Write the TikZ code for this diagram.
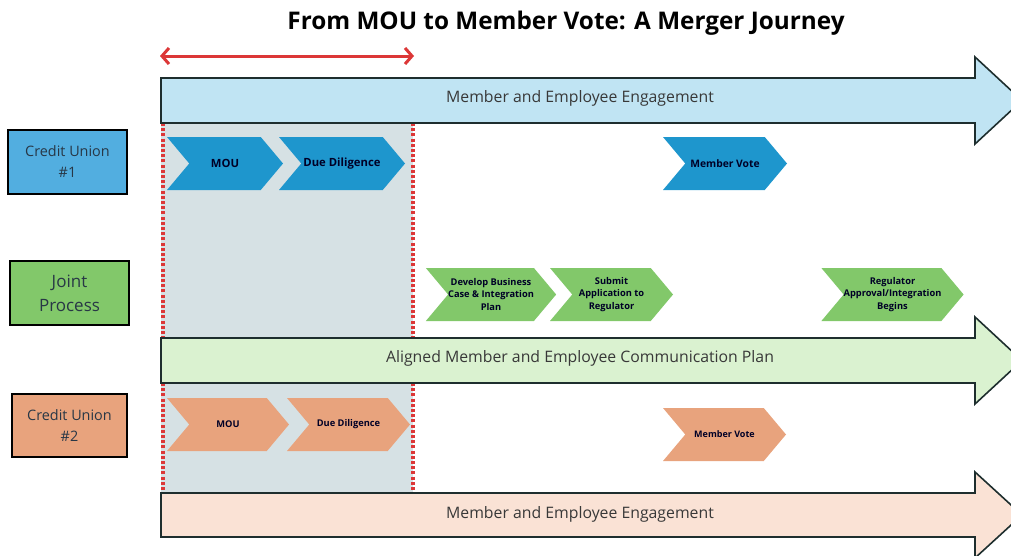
\documentclass[tikz,border=0pt]{standalone}
\usepackage{fontspec}
\setmainfont{Open Sans}
\usetikzlibrary{shapes.symbols,arrows.meta}
\definecolor{cublue}{RGB}{30,150,205}
\definecolor{cubluebox}{RGB}{82,174,224}
\definecolor{cublueband}{RGB}{192,228,243}
\definecolor{jointgreen}{RGB}{130,200,106}
\definecolor{jointband}{RGB}{218,242,208}
\definecolor{cupeach}{RGB}{232,163,125}
\definecolor{cupeachband}{RGB}{250,226,213}
\definecolor{phasegrey}{RGB}{214,225,228}
\definecolor{phasered}{RGB}{220,55,55}
\definecolor{outline}{RGB}{30,46,46}
\definecolor{labeltext}{RGB}{40,55,70}

\begin{document}
\begin{tikzpicture}[x=1pt,y=-1pt]
  \tikzset{stepchev/.style={signal, signal from=west, signal to=east, signal pointer angle=100,
      minimum height=53pt, inner sep=0pt, align=center, text=black!85!blue, font=\bfseries\fontsize{9.3}{12.5}\selectfont},
    lanebox/.style={draw=black, line width=1.6pt, minimum width=119pt, minimum height=64pt, align=center,
      text=labeltext, font=\fontsize{14.4}{21}\selectfont},
    band/.style={draw=outline, line width=1.6pt, line join=miter},
    bandtext/.style={text=black!78, font=\fontsize{15.8}{18}\selectfont},
    phaseline/.style={phasered, line width=3.2pt, dash pattern=on 3pt off 2.2pt}}
  \useasboundingbox (0,0) rectangle (1011,555);
  \node[font=\bfseries\fontsize{24.3}{29}\selectfont] (title) at (566,23) {From MOU to Member Vote: A Merger Journey};

  % MOU and due diligence window
  \fill[phasegrey] (161,123) rectangle (413,493);
  \draw[phaseline] (163,123) -- (163,493);
  \draw[phaseline] (413,123) -- (413,493);
  \coordinate (winL) at (160,56);
  \coordinate (winR) at (414,56);
  \draw[phasered, line width=3pt, {Straight Barb[length=7pt,width=16pt]}-{Straight Barb[length=7pt,width=16pt]}] (winL) -- (winR);

  % engagement bands
  \draw[band, fill=cublueband] (161,78) -- (975,78) -- (975,57) -- (1022,100.5) -- (975,144) -- (975,123) -- (161,123) -- cycle;
  \node[bandtext] (eng1) at (580,98) {Member and Employee Engagement};
  \draw[band, fill=jointband] (161,338) -- (975,338) -- (975,317) -- (1022,360.5) -- (975,404) -- (975,383) -- (161,383) -- cycle;
  \node[bandtext] (comm) at (580,358) {Aligned Member and Employee Communication Plan};
  \draw[band, fill=cupeachband] (161,493) -- (975,493) -- (975,472) -- (1022,515) -- (975,558) -- (975,537) -- (161,537) -- cycle;
  \node[bandtext] (eng2) at (580,514) {Member and Employee Engagement};

  % lanes
  \node[lanebox, fill=cubluebox] (cu1) at (67.5,162) {Credit Union\\\#1};
  \node[lanebox, fill=jointgreen, font=\fontsize{17}{24}\selectfont] (joint) at (69.5,293) {Joint\\Process};
  \node[lanebox, fill=cupeach, minimum width=115pt, minimum height=63pt] (cu2) at (69.5,425.5) {Credit Union\\\#2};

  % credit union 1
  \node[stepchev, fill=cublue, minimum width=116pt, font=\bfseries\fontsize{11.3}{13}\selectfont] (mou1) at (225,163.5) {MOU};
  \node[stepchev, fill=cublue, minimum width=126pt, font=\bfseries\fontsize{11.3}{13}\selectfont] (dd1) at (342,163.5) {Due Diligence};
  \node[stepchev, fill=cublue, minimum width=124pt, font=\bfseries\fontsize{10.3}{13}\selectfont] (vote1) at (725,163.5) {Member Vote};

  % joint process
  \node[stepchev, fill=jointgreen, minimum width=128pt] (case) at (491,294.5) {Develop Business\\Case \& Integration\\Plan};
  \node[stepchev, fill=jointgreen, minimum width=123pt] (submit) at (611.5,294.5) {Submit\\Application to\\Regulator};
  \node[stepchev, fill=jointgreen, minimum width=139pt] (approve) at (892.5,294.5) {Regulator\\Approval/Integration\\Begins};

  % credit union 2
  \node[stepchev, fill=cupeach, minimum width=122pt] (mou2) at (228,424.5) {MOU};
  \node[stepchev, fill=cupeach, minimum width=123pt] (dd2) at (348.5,424.5) {Due Diligence};
  \node[stepchev, fill=cupeach, minimum width=123pt, font=\bfseries\fontsize{9}{12.5}\selectfont] (vote2) at (724.5,434.5) {Member Vote};
\end{tikzpicture}
\end{document}
